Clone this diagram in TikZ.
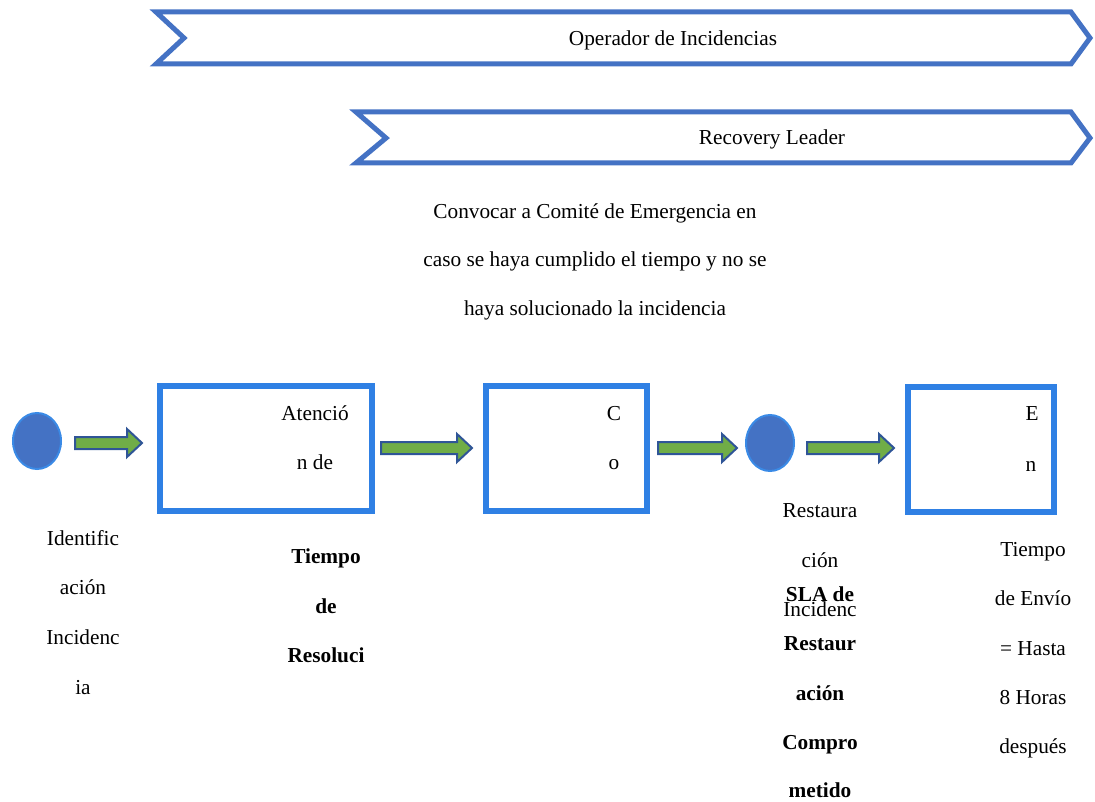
\documentclass[tikz,border=0pt]{standalone}
\usepackage{fontspec}
\setmainfont{Liberation Serif}
\usetikzlibrary{shapes.geometric}
\definecolor{chev}{HTML}{4472C4}
\definecolor{boxblue}{HTML}{2F80E4}
\definecolor{dotfill}{HTML}{4472C4}
\definecolor{dotedge}{HTML}{3A8AE6}
\definecolor{agreen}{HTML}{70AD47}
\definecolor{aedge}{HTML}{2F5597}
\tikzset{
  chevron/.style={draw=chev, line width=5pt, line join=miter, fill=white},
  procbox/.style={draw=boxblue, line width=6pt, fill=white},
  dot/.style={draw=dotedge, line width=2pt, fill=dotfill},
  barrow/.style={draw=aedge, line width=2pt, fill=agreen, line join=miter},
  txt/.style={font=\fontsize{21.3pt}{24pt}\selectfont, inner sep=0pt, anchor=base},
  btxt/.style={txt, font=\fontsize{21.3pt}{24pt}\selectfont\bfseries},
}
\newcommand{\myblockarrow}[3]{%
  \path[barrow] (#1,#3-6) -- (#2-15,#3-6) -- (#2-15,#3-14) -- (#2,#3) -- (#2-15,#3+14) -- (#2-15,#3+6) -- (#1,#3+6) -- cycle;}
\begin{document}
\begin{tikzpicture}[x=1pt,y=-1pt]
\useasboundingbox (0,0) rectangle (1095,802);
% chevrons
\path[chevron] (156,12) -- (1071,12) -- (1090,38) -- (1071,64) -- (156,64) -- (184,38) -- cycle;
\node[txt] (op) at (673,46) {Operador de Incidencias};
\path[chevron] (356,112) -- (1071,112) -- (1090,138) -- (1071,163) -- (356,163) -- (386,138) -- cycle;
\node[txt] (rl) at (772,145) {Recovery Leader};
% paragraph
\node[txt] (p1) at (595,219) {Convocar a Comité de Emergencia en};
\node[txt] (p2) at (595,267) {caso se haya cumplido el tiempo y no se};
\node[txt] (p3) at (595,316) {haya solucionado la incidencia};
% circles
\node[dot, ellipse, minimum width=48pt, minimum height=56pt, inner sep=0pt] (c1) at (37,441) {};
\node[dot, ellipse, minimum width=48pt, minimum height=56pt, inner sep=0pt] (c2) at (770,443) {};
% boxes
\path[procbox] (160,386) rectangle (372,511);
\node[txt] (b1a) at (315,420) {Atenció};
\node[txt] (b1b) at (315,469) {n de};
\path[procbox] (486,386) rectangle (647,511);
\node[txt] (b2a) at (614,420) {C};
\node[txt] (b2b) at (614,469) {o};
\path[procbox] (908,387) rectangle (1054,512);
\node[txt] (b3a) at (1032,420) {E};
\node[txt] (b3b) at (1031,471) {n};
% block arrows
\myblockarrow{75}{142}{443}
\myblockarrow{381}{472}{448}
\myblockarrow{658}{737}{448}
\myblockarrow{807}{894}{448}
% labels
\node[txt] (l1a) at (83,545) {Identific};
\node[txt] (l1b) at (83,594) {ación};
\node[txt] (l1c) at (83,644) {Incidenc};
\node[txt] (l1d) at (83,694) {ia};
\node[btxt] (l2a) at (326,563) {Tiempo};
\node[btxt] (l2b) at (326,613) {de};
\node[btxt] (l2c) at (326,662) {Resoluci};
\node[txt] (l3a) at (820,517) {Restaura};
\node[txt] (l3b) at (820,567) {ción};
\node[txt] (l3c) at (820,616) {Incidenc};
\node[btxt] (l4a) at (820,601) {SLA de};
\node[btxt] (l4b) at (820,650) {Restaur};
\node[btxt] (l4c) at (820,700) {ación};
\node[btxt] (l4d) at (820,749) {Compro};
\node[btxt] (l4e) at (820,797) {metido};
\node[txt] (l5a) at (1033,556) {Tiempo};
\node[txt] (l5b) at (1033,605) {de Envío};
\node[txt] (l5c) at (1033,655) {= Hasta};
\node[txt] (l5d) at (1033,704) {8 Horas};
\node[txt] (l5e) at (1033,753) {después};
\end{tikzpicture}
\end{document}
